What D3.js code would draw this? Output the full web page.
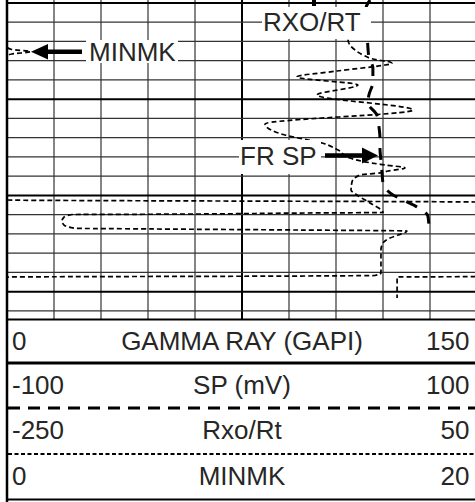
<!DOCTYPE html>
<html><head><meta charset="utf-8">
<script src="https://cdn.jsdelivr.net/npm/d3@7"></script>
<style>html,body{margin:0;padding:0;background:#fff;overflow:hidden}</style>
</head><body>
<svg id="c" width="475" height="502"></svg>
<script>
// ---- scales of the four curves (header rows) ----
const trackNames = ["GAMMA RAY (GAPI)", "SP (mV)", "Rxo/Rt", "MINMK"];
const trackMin = [0, -100, -250, 0];
const trackMax = [150, 100, 50, 20];
const minLabels = ["0", "-100", "-250", "0"];
const maxLabels = ["150", "100", "50", "20"];

// ---- depth grid ----
const depthTop = 5099.7, depthBottom = 5133.0;
const gridDepths = d3.range(5100, 5133, 2);
const grTicks = d3.range(15, 150, 15);

// ---- SP curve (long dashed) ----
const spDepth = [5099.70,5100.53,5102.30,5104.69,5105.62,5106.76,5108.22,5109.57,5110.40,5111.65,5112.89,5114.04,5115.08,5116.32,5117.67,5118.71,5119.96,5120.48,5121.21,5122.14,5123.39];
const spValue = [54.5,52.8,53.2,53.6,54.0,55.7,55.7,54.0,53.6,57.4,58.3,58.7,58.7,59.1,59.6,60.0,64.3,68.5,74.5,79.1,79.6];

// ---- Rxo/Rt curve (short dashed) ----
const rxoDepth = [5100.53,5103.86,5104.89,5105.41,5105.93,5106.14,5106.30,5106.45,5107.08,5107.70,5108.53,5109.57,5111.13,5112.58,5113.73,5114.56,5115.28,5116.12,5116.64,5116.84,5117.15,5117.47,5117.67,5117.88,5118.61,5119.44,5119.96,5120.79,5121.78,5121.83,5121.96,5121.99,5122.25,5122.66,5123.08,5123.42,5123.49,5123.60,5123.70,5124.12,5124.43,5124.95,5125.67,5128.06,5128.32,5128.38,5128.48,5128.53,5130.66];
const rxoValue = [-29.8,-32.3,-27.9,-22.8,-13.8,-5.5,-4.3,-8.7,-39.4,-64.9,-26.0,-52.1,9.1,-85.3,-72.6,-48.9,-38.7,-31.1,-17.0,-8.7,4.0,-6.8,-11.9,-24.7,-29.8,-30.4,-26.6,-18.3,-10.0,-58.5,-158.7,-208.5,-213.6,-214.9,-213.6,-206.6,-156.8,-63.0,5.3,-0.4,-5.5,-10.0,-11.3,-11.3,-15.1,-63.0,-248.1,-252.6,-252.6];

// ---- MINMK curve (short dashed) ----
const mnkDepth = [5099.70,5104.58,5104.84,5105.07,5105.31,5105.52,5120.48,5120.69,5120.74,5128.43,5128.48,5130.66];
const mnkValue = [0,0,0.2,1.0,0.2,0,0,20.0,21.0,21.0,16.6,16.6];

// ---- annotations ----
const noteTexts = ["RXO/RT", "MINMK", "FR SP"];

const svg = d3.select("#c");
const FONT = "'Liberation Sans', Arial, Helvetica, sans-serif";
const TXT = "#262626";
const X0 = 7, X1 = 477, PB = 319.5;
const y = d3.scaleLinear().domain([depthTop, depthBottom]).range([0, 320.5]);
const xs = trackMin.map((m, i) => d3.scaleLinear().domain([m, trackMax[i]]).range([X0, X1]));

svg.append("rect").attr("width", 475).attr("height", 502).attr("fill", "#fff");

// grid
const g = svg.append("g");
grTicks.forEach(v => {
  const x = xs[0](v);
  g.append("line").attr("x1", x).attr("x2", x).attr("y1", 0).attr("y2", PB)
    .attr("stroke", v === 75 ? "#000" : "#333").attr("stroke-width", v === 75 ? 2 : 1.2);
});
gridDepths.forEach(d => {
  const yy = y(d);
  const thick = d % 10 === 0;
  g.append("line").attr("x1", X0).attr("x2", 475).attr("y1", yy).attr("y2", yy)
    .attr("stroke", thick ? "#000" : "#333").attr("stroke-width", thick ? 2 : 1.2);
});

// curves
svg.append("clipPath").attr("id", "clip").append("rect")
  .attr("x", X0).attr("y", 0).attr("width", X1 - X0).attr("height", PB);
const cg = svg.append("g").attr("clip-path", "url(#clip)");
function drawCurve(depths, values, scale, dash, width) {
  const pts = depths.map((d, i) => [scale(values[i]), y(d)]);
  cg.append("path").attr("d", d3.line().curve(d3.curveMonotoneY)(pts))
    .attr("fill", "none").attr("stroke", "#000").attr("stroke-width", width)
    .attr("stroke-dasharray", dash);
}
drawCurve(mnkDepth, mnkValue, xs[3], "5,3", 1.7);
drawCurve(rxoDepth, rxoValue, xs[2], "5,3", 1.7);
drawCurve(spDepth, spValue, xs[1], "12,10", 3);

// annotation labels with white boxes
function label(txt, x, base, bx0, by0, bx1, by1) {
  svg.append("rect").attr("x", bx0).attr("y", by0).attr("width", bx1 - bx0).attr("height", by1 - by0).attr("fill", "#fff");
  svg.append("text").attr("x", x).attr("y", base).attr("font-family", FONT).attr("font-size", 26)
    .attr("fill", TXT).text(txt);
}
label(noteTexts[0], 263, 31, 262, 7, 371, 39);
label(noteTexts[1], 89, 61, 86, 40, 178, 63);
label(noteTexts[2], 240, 165, 239, 140, 321, 174);

// arrows
svg.append("line").attr("x1", 314).attr("x2", 314).attr("y1", 0).attr("y2", 6).attr("stroke", "#000").attr("stroke-width", 4);
svg.append("line").attr("x1", 82).attr("x2", 46).attr("y1", 51.7).attr("y2", 51.7).attr("stroke", "#000").attr("stroke-width", 4.5);
svg.append("path").attr("d", "M31,51.7L48,44L48,59.5Z").attr("fill", "#000");
svg.append("line").attr("x1", 325).attr("x2", 364).attr("y1", 155.5).attr("y2", 155.5).attr("stroke", "#000").attr("stroke-width", 4.5);
svg.append("path").attr("d", "M378,155.5L362,147.5L362,163.5Z").attr("fill", "#000");

// bottom of grid
svg.append("line").attr("x1", X0).attr("x2", 475).attr("y1", PB).attr("y2", PB).attr("stroke", "#000").attr("stroke-width", 2);

// header
const baselines = [350, 394, 439, 485];
trackNames.forEach((name, i) => {
  const b = baselines[i];
  const t = (x, anchor, s) => svg.append("text").attr("x", x).attr("y", b).attr("text-anchor", anchor)
    .attr("font-family", FONT).attr("font-size", 26).attr("fill", TXT).text(s);
  t(12, "start", minLabels[i]);
  t(242, "middle", name);
  t(469.5, "end", maxLabels[i]);
});
svg.append("line").attr("x1", X0).attr("x2", 475).attr("y1", 363).attr("y2", 363).attr("stroke", "#000").attr("stroke-width", 3);
svg.append("line").attr("x1", 8).attr("x2", 475).attr("y1", 408).attr("y2", 408).attr("stroke", "#000").attr("stroke-width", 3).attr("stroke-dasharray", "12,8");
svg.append("line").attr("x1", 8).attr("x2", 475).attr("y1", 454).attr("y2", 454).attr("stroke", "#000").attr("stroke-width", 2).attr("stroke-dasharray", "4,2.5");
svg.append("line").attr("x1", X0).attr("x2", 475).attr("y1", 499.5).attr("y2", 499.5).attr("stroke", "#000").attr("stroke-width", 2);

// left border
svg.append("line").attr("x1", X0).attr("x2", X0).attr("y1", 0).attr("y2", 502).attr("stroke", "#000").attr("stroke-width", 2.5);
</script>
</body></html>
